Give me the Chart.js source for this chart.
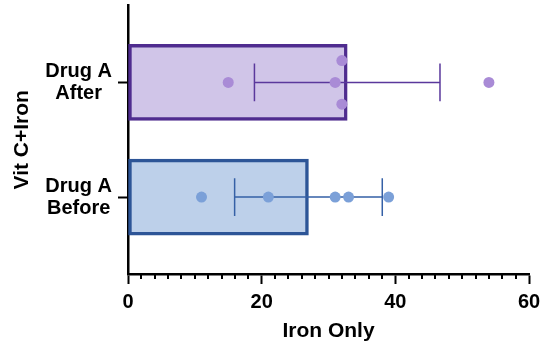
<!DOCTYPE html>
<html>
<head>
<meta charset="utf-8">
<script src="https://cdn.jsdelivr.net/npm/chart.js@4"></script>
<style>
  body { margin: 0; background: #fff; }
  #wrap { width: 543px; height: 347px; position: relative; }
</style>
</head>
<body>
<div id="wrap"><canvas id="barchart"></canvas></div>
<script>
// data
const groups = [['Drug A', 'After'], ['Drug A', 'Before']];
const afterValues = [15, 31, 32, 32, 54];
const afterJitter = [0, 0, -0.19, 0.19, 0];
const beforeValues = [11, 21, 31, 33, 39];
const beforeJitter = [0, 0, 0, 0, 0];
const xTicks = [0, 20, 40, 60];

const fillColors = ['#d0c5e8', '#bdd0ea'];
const edgeColors = ['#4f2c8f', '#2d5597'];
const dotColors = ['#a98bd6', '#7ba0d8'];
const errColors = ['#5a389c', '#3560a6'];

function mean(arr) {
    return arr.reduce((a, b) => a + b, 0) / arr.length;
}
function sd(arr) {
    var m = mean(arr);
    var s = arr.reduce((a, b) => a + (b - m) * (b - m), 0);
    return Math.sqrt(s / (arr.length - 1));
}

const allValues = [afterValues, beforeValues];
const means = allValues.map(mean);
const sds = allValues.map(sd);

function points(vals, jit, idx) {
    return vals.map((v, i) => ({ x: v, y: idx + jit[i] }));
}

const font = { family: 'Liberation Sans, Arial, sans-serif', weight: 'bold' };

// error bars (mean +/- SD), drawn right after the bars
const errorBars = {
    id: 'errorBars',
    afterDatasetDraw(chart, args) {
        if (args.index !== 0) return;
        const ctx = chart.ctx, xs = chart.scales.x, ys = chart.scales.y;
        ctx.save();
        ctx.lineWidth = 1.5;
        means.forEach(function (m, i) {
            var lo = xs.getPixelForValue(m - sds[i]);
            var hi = xs.getPixelForValue(m + sds[i]);
            var y = ys.getPixelForValue(i);
            var y1 = ys.getPixelForValue(i - 0.165);
            var y2 = ys.getPixelForValue(i + 0.165);
            ctx.strokeStyle = errColors[i];
            ctx.beginPath();
            ctx.moveTo(lo, y); ctx.lineTo(hi, y);
            ctx.moveTo(lo, y1); ctx.lineTo(lo, y2);
            ctx.moveTo(hi, y1); ctx.lineTo(hi, y2);
            ctx.stroke();
        });
        ctx.restore();
    }
};

// small ticks every 2 units on the x axis
const minorTicks = {
    id: 'minorTicks',
    afterDraw(chart) {
        const ctx = chart.ctx, xs = chart.scales.x;
        const y0 = chart.chartArea.bottom;
        ctx.save();
        ctx.strokeStyle = '#000';
        ctx.lineWidth = 2;
        ctx.beginPath();
        for (var v = 2; v < 60; v += 2) {
            if (v % 20 === 0) continue;
            var px = Math.round(xs.getPixelForValue(v));
            ctx.moveTo(px, y0);
            ctx.lineTo(px, y0 + 5);
        }
        ctx.stroke();
        ctx.restore();
    }
};

const ctx = document.getElementById('barchart').getContext('2d');
const chart = new Chart(ctx, {
    type: 'bar',
    data: {
        datasets: [
            {
                type: 'bar',
                data: means.map((m, i) => ({ x: m, y: i })),
                backgroundColor: fillColors,
                borderColor: edgeColors,
                borderWidth: 3.5,
                borderSkipped: false,
                barThickness: 76,
                order: 3
            },
            {
                type: 'scatter',
                data: points(afterValues, afterJitter, 0),
                backgroundColor: dotColors[0],
                borderWidth: 0,
                pointRadius: 5.5,
                order: 1
            },
            {
                type: 'scatter',
                data: points(beforeValues, beforeJitter, 1),
                backgroundColor: dotColors[1],
                borderWidth: 0,
                pointRadius: 5.5,
                order: 1
            }
        ]
    },
    options: {
        indexAxis: 'y',
        responsive: true,
        maintainAspectRatio: false,
        animation: false,
        layout: { padding: { top: 5, right: 14, left: 0, bottom: 0 } },
        plugins: { legend: { display: false }, tooltip: { enabled: false } },
        scales: {
            x: {
                type: 'linear',
                min: 0,
                max: 60,
                afterBuildTicks: function (scale) {
                    scale.ticks = xTicks.map(v => ({ value: v }));
                },
                afterFit: function (scale) {
                    scale.height = 73;
                    scale.paddingLeft = 0;
                    scale.paddingRight = 0;
                },
                grid: { drawOnChartArea: false, tickLength: 10, tickWidth: 2, tickColor: '#000' },
                border: { color: '#000', width: 2.5 },
                ticks: { color: '#000', padding: 6, font: Object.assign({ size: 20 }, font) },
                title: {
                    display: true, text: 'Iron Only', color: '#000',
                    padding: { top: 0, bottom: 3 },
                    font: Object.assign({ size: 21 }, font)
                }
            },
            y: {
                type: 'linear',
                reverse: true,
                offset: false,
                min: -0.67,
                max: 1.67,
                afterBuildTicks: function (scale) {
                    scale.ticks = groups.map((g, i) => ({ value: i }));
                },
                afterFit: function (scale) {
                    scale.width = 128;
                    scale.paddingTop = 0;
                    scale.paddingBottom = 0;
                },
                grid: { offset: false, drawOnChartArea: false, tickLength: 10, tickWidth: 2, tickColor: '#000' },
                border: { color: '#000', width: 2.5 },
                ticks: {
                    color: '#000',
                    padding: 6,
                    crossAlign: 'center',
                    font: Object.assign({ size: 20, lineHeight: 1.1 }, font),
                    callback: function (v) { return groups[v]; }
                },
                title: {
                    display: true, text: 'Vit C+Iron', color: '#000',
                    padding: { top: 10, bottom: 0 },
                    font: Object.assign({ size: 21 }, font)
                }
            }
        }
    },
    plugins: [errorBars, minorTicks]
});
</script>
</body>
</html>
